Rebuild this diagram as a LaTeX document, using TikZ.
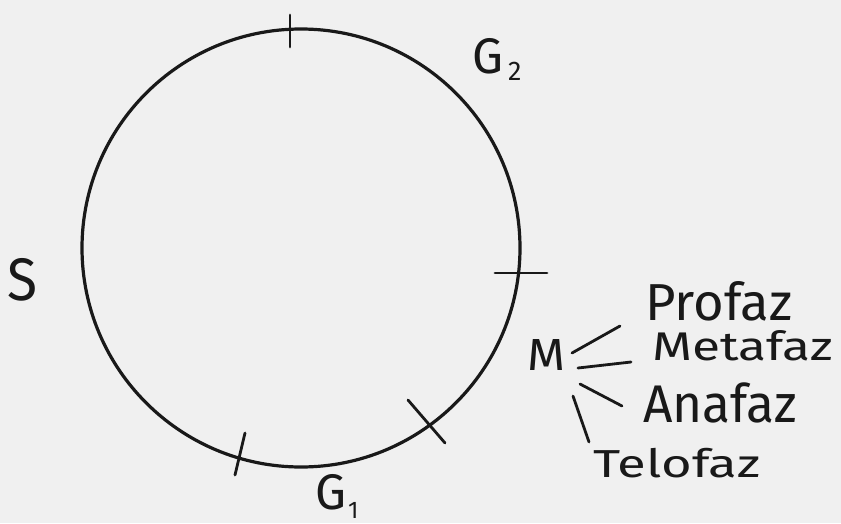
\documentclass[tikz,border=0pt]{standalone}
\usepackage{fontspec}
\usepackage{graphicx}
\newfontfamily\hand{Fira Sans}
\begin{document}
\begin{tikzpicture}[x=1pt,y=-1pt,
  stroke/.style={line width=2.8pt,line cap=round,black!90},
  lab/.style={inner sep=0pt,anchor=base west,text=black!90}]
\fill[black!6] (0,0) rectangle (841,523);
\useasboundingbox (0,0) rectangle (841,523);
% cycle
\node[circle,draw=black!90,line width=3.2pt,minimum size=438pt,inner sep=0pt] (cyc) at (301,248) {};
% ticks
\coordinate (t1a) at (290,15); \coordinate (t1b) at (290,47);
\coordinate (t2a) at (495,273); \coordinate (t2b) at (547,273);
\coordinate (t3a) at (408,400); \coordinate (t3b) at (445,443);
\coordinate (t4a) at (245,433); \coordinate (t4b) at (235,475);
\draw[stroke] (t1a) -- (t1b);
\draw[stroke] (t2a) -- (t2b);
\draw[stroke] (t3a) -- (t3b);
\draw[stroke] (t4a) -- (t4b);
% labels
\node[lab,font=\hand\fontsize{50}{60}\selectfont] (g2) at (472,73) {\resizebox{31pt}{\height}{G}};
\node[lab,font=\hand\fontsize{27}{30}\selectfont] (g2s) at (508,80) {2};
\node[lab,font=\hand\fontsize{60}{70}\selectfont] (s) at (7,300) {\resizebox{30pt}{\height}{S}};
\node[lab,font=\hand\fontsize{50}{60}\selectfont] (g1) at (315,509) {\resizebox{31pt}{\height}{G}};
\node[lab,font=\hand\fontsize{24}{30}\selectfont] (g1s) at (348,518) {1};
\node[lab,font=\hand\fontsize{45}{50}\selectfont] (m) at (527,370) {\resizebox{38pt}{\height}{M}};
\node[lab,font=\hand\fontsize{52}{60}\selectfont] (pro) at (645,320) {\resizebox{147pt}{\height}{Profaz}};
\node[lab,font=\hand\fontsize{40}{50}\selectfont] (met) at (652,360) {\resizebox{181pt}{\height}{Metafaz}};
\node[lab,font=\hand\fontsize{53}{60}\selectfont] (ana) at (643,422) {\resizebox{154pt}{\height}{Anafaz}};
\node[lab,font=\hand\fontsize{39}{50}\selectfont] (tel) at (593,477) {\resizebox{167pt}{\height}{Telofaz}};
% strokes from M
\coordinate (l1a) at (572,353); \coordinate (l1b) at (620,326);
\coordinate (l2a) at (578,368); \coordinate (l2b) at (631,362);
\coordinate (l3a) at (580,384); \coordinate (l3b) at (622,406);
\coordinate (l4a) at (573,396); \coordinate (l4b) at (589,442);
\draw[stroke] (l1a) -- (l1b);
\draw[stroke] (l2a) -- (l2b);
\draw[stroke] (l3a) -- (l3b);
\draw[stroke] (l4a) -- (l4b);
\end{tikzpicture}
\end{document}
